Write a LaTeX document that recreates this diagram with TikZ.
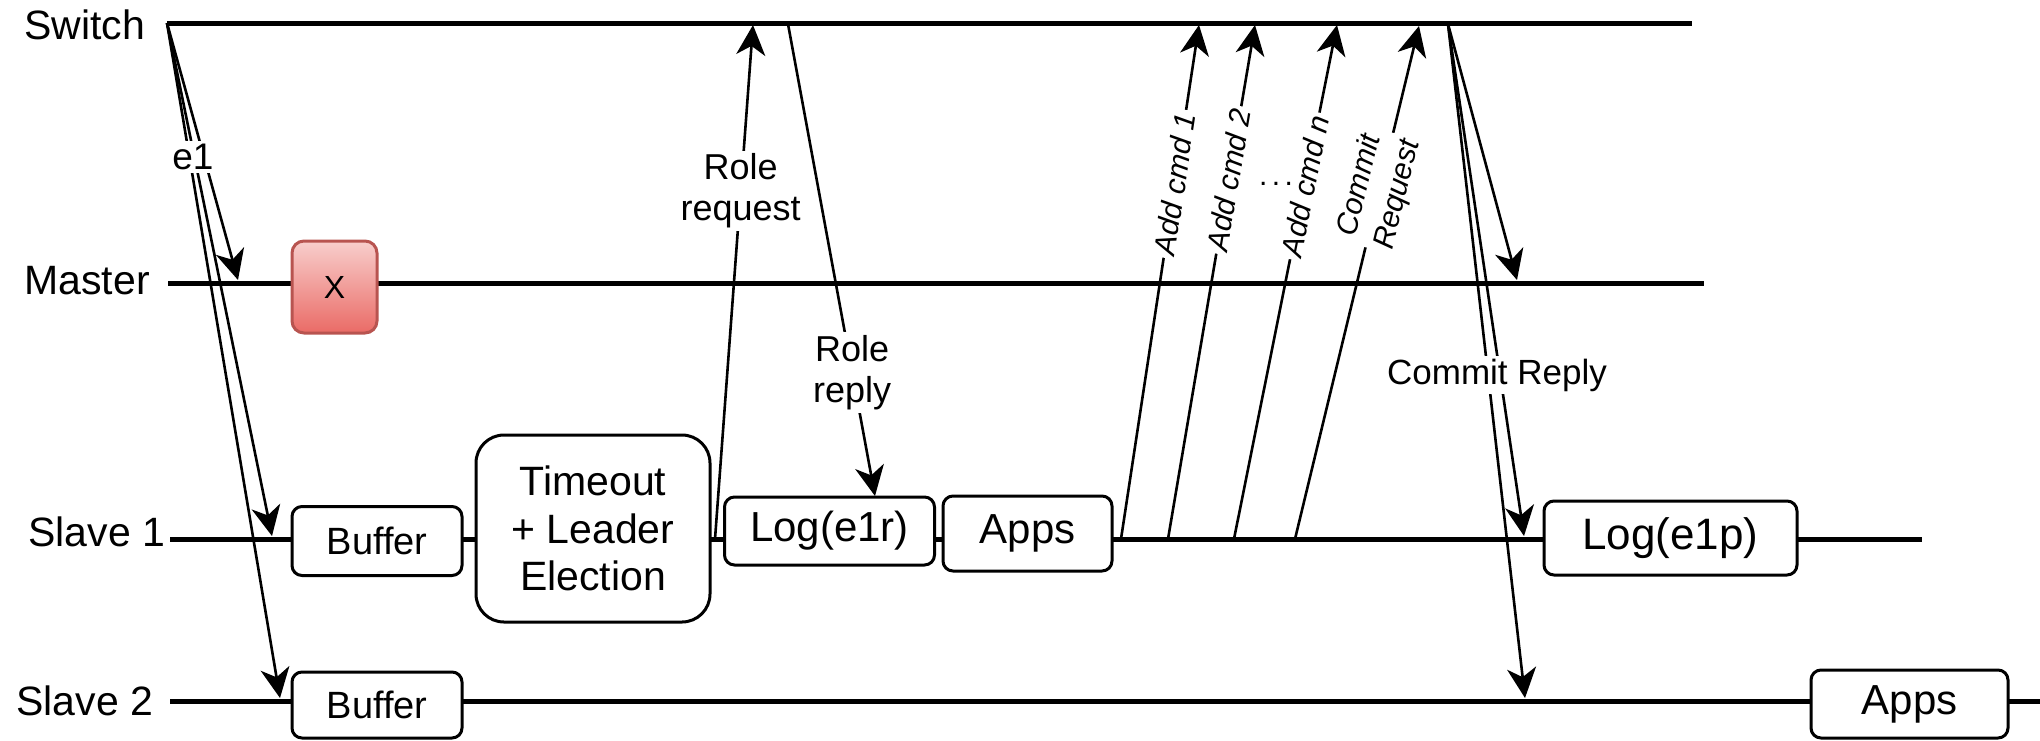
\documentclass[tikz,border=0pt]{standalone}
\usepackage{fontspec}
\setmainfont{Liberation Sans}
\usetikzlibrary{arrows.meta}
\definecolor{failtop}{HTML}{F8CECC}
\definecolor{failbot}{HTML}{EA6B66}
\definecolor{failline}{HTML}{B85450}

\begin{document}
\begin{tikzpicture}[x=0.5pt, y=-0.5pt,
  lifeline/.style={line width=2.5pt},
  lane/.style={font=\fontsize{20.5}{24}\selectfont, anchor=west, inner sep=0pt},
  box/.style={draw, line width=1.5pt, fill=white, rounded corners=5pt,
    align=center, inner sep=0pt, font=\fontsize{21}{25}\selectfont},
  msg/.style={line width=1.3pt, -{Stealth[length=15pt,width=14.5pt,inset=4.5pt]}},
  lbl/.style={fill=white, inner sep=1.5pt, align=center},
  vlbl/.style={lbl, font=\fontsize{15}{19.5}\selectfont},
]
\useasboundingbox (0,0) rectangle (2040,740);

% lane names
\node[lane] (lsw) at (24,25)  {Switch};
\node[lane] (lma) at (24,281) {Master};
\node[lane] (ls1) at (28,532) {Slave 1};
\node[lane] (ls2) at (16,701) {Slave 2};

% lifelines
\coordinate (sw-a) at (167,23);  \coordinate (sw-b) at (1692,23);
\coordinate (ma-a) at (168,283); \coordinate (ma-b) at (1704,283);
\coordinate (s1-a) at (170,539); \coordinate (s1-b) at (1922,539);
\coordinate (s2-a) at (170,701); \coordinate (s2-b) at (2040,701);
\draw[lifeline] (sw-a) -- (sw-b);
\draw[lifeline] (ma-a) -- (ma-b);
\draw[lifeline] (s1-a) -- (s1-b);
\draw[lifeline] (s2-a) -- (s2-b);

% activity boxes
\node[draw=failline, line width=1.5pt, top color=failtop, bottom color=failbot,
  rounded corners=6pt, minimum width=42.5pt, minimum height=46pt,
  font=\fontsize{16}{19}\selectfont] (fail) at (334.5,287) {X};
\node[box, minimum width=85pt, minimum height=34.5pt, font=\fontsize{19}{22}\selectfont] (buf1) at (377,541) {Buffer};
\node[box, minimum width=85pt, minimum height=33pt, font=\fontsize{19}{22}\selectfont] (buf2) at (377,705) {Buffer};
\node[box, rounded corners=14pt, minimum width=117pt, minimum height=93.5pt,
  font=\fontsize{20.5}{23.75}\selectfont] (elect) at (593,528.5) {Timeout\\+ Leader\\Election};
\node[box, minimum width=105pt, minimum height=34pt] (log1) at (829.5,531) {Log(e1r)};
\node[box, minimum width=84.5pt, minimum height=37.5pt] (apps1) at (1027.5,533.5) {Apps};
\node[box, minimum width=126.5pt, minimum height=37pt, font=\fontsize{22}{26}\selectfont] (log2) at (1670.5,538) {Log(e1p)};
\node[box, minimum width=98.5pt, minimum height=34pt] (apps2) at (1909.5,704) {Apps};

% event e1 from the switch
\coordinate (ma-e1) at (238,280);
\coordinate (s1-e1) at (272,536);
\coordinate (s2-e1) at (280,698);
\draw[msg] (sw-a) -- (ma-e1);
\draw[msg] (sw-a) -- (s1-e1);
\draw[msg] (sw-a) -- (s2-e1);

% role request / reply
\coordinate (s1-rq) at (715,539);  \coordinate (sw-rq) at (753,25);
\coordinate (sw-rp) at (788,24);   \coordinate (lg-rp) at (875,496);
\draw[msg] (s1-rq) -- node[lbl, pos=0.677, font=\fontsize{18}{20.5}\selectfont] {Role\\request} (sw-rq);
\draw[msg] (sw-rp) -- node[lbl, pos=0.738, font=\fontsize{18}{20.5}\selectfont] {Role\\reply} (lg-rp);

% replicated commands
\coordinate (s1-c1) at (1121,539); \coordinate (sw-c1) at (1199,25);
\coordinate (s1-c2) at (1168,539); \coordinate (sw-c2) at (1255,25);
\coordinate (s1-cn) at (1234,539); \coordinate (sw-cn) at (1337,25);
\coordinate (s1-cr) at (1295,539); \coordinate (sw-cr) at (1419,26);
\draw[msg] (s1-c1) -- node[vlbl, pos=0.691, rotate=81.4] {\itshape Add cmd 1} (sw-c1);
\draw[msg] (s1-c2) -- node[vlbl, pos=0.687, rotate=80.4, xshift=3pt] {\itshape Add cmd 2} (sw-c2);
\draw[msg] (s1-cn) -- node[vlbl, pos=0.687, rotate=78.7] {\itshape Add cmd n} (sw-cn);
\draw[msg] (s1-cr) -- node[vlbl, pos=0.665, rotate=76.4, xshift=4pt] {\itshape Commit\\\itshape Request} (sw-cr);
\node[font=\fontsize{15}{18}\selectfont, inner sep=0pt] (dots) at (1276,184) {.\kern2.2pt.\kern2.2pt.};

% commit reply
\coordinate (sw-cp) at (1448,24);
\coordinate (ma-cp) at (1517,280);
\coordinate (s1-cp) at (1524,536);
\coordinate (s2-cp) at (1525,698);
\draw[msg] (sw-cp) -- (ma-cp);
\draw[msg] (sw-cp) -- (s1-cp);
\draw[msg] (sw-cp) -- (s2-cp);

% labels shared by several messages
\node[lbl, font=\fontsize{18.5}{22}\selectfont] (e1) at (193,157) {e1};
\node[lbl, font=\fontsize{17.5}{21}\selectfont] (crep) at (1497,375) {Commit Reply};
\end{tikzpicture}
\end{document}
